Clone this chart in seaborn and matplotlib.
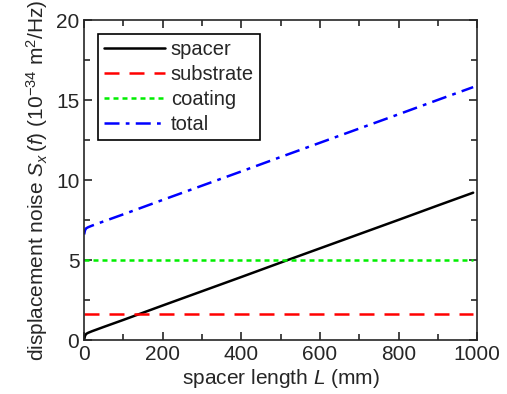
import numpy as np
import pandas as pd
import seaborn as sns
import matplotlib.pyplot as plt
from matplotlib.ticker import MultipleLocator

# values (10^-34 m^2/Hz)
L = [0, 2, 5, 10, 20, 50, 100, 200, 300, 400, 500, 600, 700, 800, 900, 990]
spacer = [0.0, 0.25, 0.38, 0.45, 0.55, 0.82, 1.26, 2.16, 3.05, 3.94, 4.84, 5.73, 6.62, 7.51, 8.41, 9.21]
substrate = [1.6] * len(L)
coating = [5.0] * len(L)
total = [6.6, 6.85, 6.98, 7.05, 7.15, 7.42, 7.86, 8.76, 9.65, 10.54, 11.44, 12.33, 13.22, 14.11, 15.01, 15.81]

names = ['spacer', 'substrate', 'coating', 'total']
colors = ['black', '#ff0000', '#00ee00', '#0000ff']
dashes = ['', (6, 4), (2, 1.6), (6, 2.5, 1.5, 2.5)]

df = pd.DataFrame({
    'L': L * 4,
    'S': spacer + substrate + coating + total,
    'curve': [n for n in names for _ in L],
})

sns.set_style('ticks')
plt.rcParams['font.family'] = ['Liberation Sans', 'DejaVu Sans']
plt.rcParams['mathtext.fontset'] = 'custom'
plt.rcParams['mathtext.rm'] = 'Liberation Sans'
plt.rcParams['mathtext.it'] = 'Liberation Sans:italic'

fig = plt.figure(figsize=(5.07, 3.94), dpi=100)
ax = fig.add_axes([0.166, 0.137, 0.775, 0.812])

sns.lineplot(data=df, x='L', y='S', hue='curve', style='curve',
             palette=dict(zip(names, colors)), dashes=dict(zip(names, dashes)),
             linewidth=1.8, ax=ax)

ax.set_xlim(0, 1000)
ax.set_ylim(0, 20)
ax.xaxis.set_major_locator(MultipleLocator(200))
ax.xaxis.set_minor_locator(MultipleLocator(100))
ax.yaxis.set_major_locator(MultipleLocator(5))
ax.yaxis.set_minor_locator(MultipleLocator(2.5))
ax.tick_params(which='both', direction='in', top=True, right=True, labelsize=15, width=1.2)
ax.tick_params(which='major', length=6)
ax.tick_params(which='minor', length=4)
for s in ax.spines.values():
    s.set_linewidth(1.2)

ax.set_xlabel(r'spacer length $L$ (mm)', fontsize=15, labelpad=2)
ax.set_ylabel(r'displacement noise $S_x\,(f)$ (10$^{-34}$ m$^2$/Hz)', fontsize=15, labelpad=4)

leg = ax.legend(loc='upper left', fontsize=14.5, frameon=True, fancybox=False,
                handlelength=3.0, borderpad=0.3, labelspacing=0.3,
                handletextpad=0.3, borderaxespad=0.7)
leg.get_frame().set_edgecolor('black')
leg.get_frame().set_linewidth(1.2)
leg.get_frame().set_alpha(1)

fig.savefig('out.png', dpi=100)
